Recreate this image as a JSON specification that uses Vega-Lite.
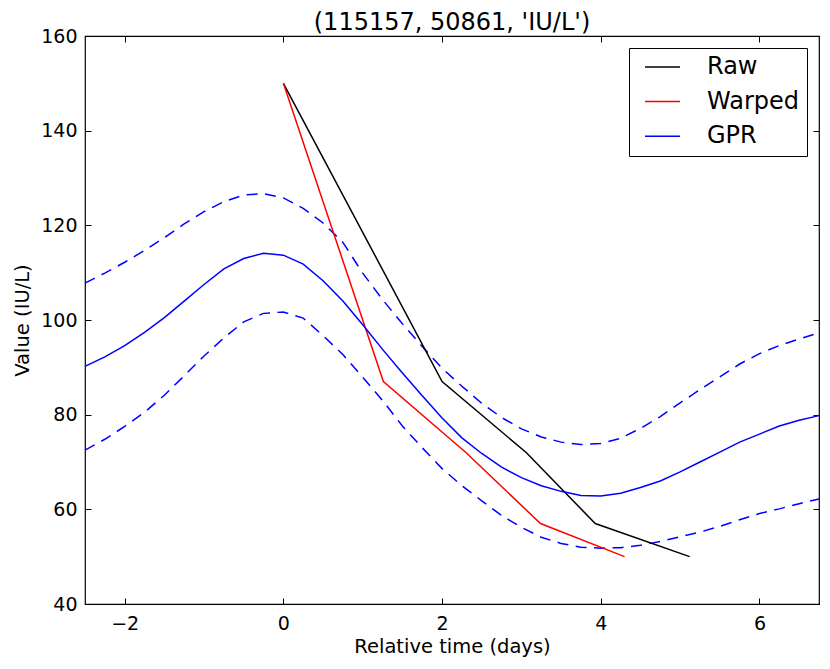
{
  "$schema": "https://vega.github.io/schema/vega-lite/v6.json",
  "width": 734,
  "height": 568,
  "autosize": "none",
  "padding": {"left": 85, "top": 36, "right": 11, "bottom": 65},
  "title": {
    "text": "(115157, 50861, 'IU/L')",
    "fontSize": 24,
    "fontWeight": "normal",
    "color": "black",
    "offset": 7,
    "dy": 15
  },
  "config": {
    "font": "DejaVu Sans",
    "view": {"stroke": "black", "strokeWidth": 1.2},
    "axis": {
      "domain": false,
      "grid": false,
      "tickSize": -6,
      "tickColor": "black",
      "tickWidth": 1,
      "labelFont": "DejaVu Sans",
      "labelFontSize": 19,
      "labelColor": "black",
      "titleFont": "DejaVu Sans",
      "titleFontSize": 19.5,
      "titleFontWeight": "normal",
      "titleColor": "black"
    },
    "legend": {
      "labelFont": "DejaVu Sans",
      "labelFontSize": 24,
      "labelColor": "black"
    }
  },
  "datasets": {
    "curves": [
      {"t": 0, "value": 150, "series": "Raw"},
      {"t": 2.0, "value": 87, "series": "Raw"},
      {"t": 3.06, "value": 72, "series": "Raw"},
      {"t": 3.93, "value": 57, "series": "Raw"},
      {"t": 5.12, "value": 50, "series": "Raw"},
      {"t": 0, "value": 150, "series": "Warped"},
      {"t": 1.26, "value": 87, "series": "Warped"},
      {"t": 2.3, "value": 72, "series": "Warped"},
      {"t": 3.24, "value": 57, "series": "Warped"},
      {"t": 4.3, "value": 50, "series": "Warped"},
      {"t": -2.5, "value": 90.2, "series": "GPR"},
      {"t": -2.25, "value": 92.2, "series": "GPR"},
      {"t": -2.0, "value": 94.6, "series": "GPR"},
      {"t": -1.75, "value": 97.4, "series": "GPR"},
      {"t": -1.5, "value": 100.5, "series": "GPR"},
      {"t": -1.25, "value": 104.0, "series": "GPR"},
      {"t": -1.0, "value": 107.5, "series": "GPR"},
      {"t": -0.75, "value": 110.8, "series": "GPR"},
      {"t": -0.5, "value": 113.0, "series": "GPR"},
      {"t": -0.25, "value": 114.1, "series": "GPR"},
      {"t": 0.0, "value": 113.7, "series": "GPR"},
      {"t": 0.25, "value": 111.8, "series": "GPR"},
      {"t": 0.5, "value": 108.3, "series": "GPR"},
      {"t": 0.75, "value": 104.0, "series": "GPR"},
      {"t": 1.0, "value": 99.0, "series": "GPR"},
      {"t": 1.25, "value": 93.8, "series": "GPR"},
      {"t": 1.5, "value": 88.8, "series": "GPR"},
      {"t": 1.75, "value": 84.0, "series": "GPR"},
      {"t": 2.0, "value": 79.3, "series": "GPR"},
      {"t": 2.25, "value": 75.1, "series": "GPR"},
      {"t": 2.5, "value": 71.8, "series": "GPR"},
      {"t": 2.75, "value": 68.9, "series": "GPR"},
      {"t": 3.0, "value": 66.7, "series": "GPR"},
      {"t": 3.25, "value": 65.0, "series": "GPR"},
      {"t": 3.5, "value": 63.8, "series": "GPR"},
      {"t": 3.75, "value": 62.9, "series": "GPR"},
      {"t": 4.0, "value": 62.8, "series": "GPR"},
      {"t": 4.25, "value": 63.4, "series": "GPR"},
      {"t": 4.5, "value": 64.6, "series": "GPR"},
      {"t": 4.75, "value": 66.0, "series": "GPR"},
      {"t": 5.0, "value": 67.9, "series": "GPR"},
      {"t": 5.25, "value": 70.0, "series": "GPR"},
      {"t": 5.5, "value": 72.1, "series": "GPR"},
      {"t": 5.75, "value": 74.2, "series": "GPR"},
      {"t": 6.0, "value": 75.9, "series": "GPR"},
      {"t": 6.25, "value": 77.6, "series": "GPR"},
      {"t": 6.5, "value": 78.8, "series": "GPR"},
      {"t": 6.75, "value": 79.8, "series": "GPR"},
      {"t": -2.5, "value": 107.8, "series": "GPR upper"},
      {"t": -2.25, "value": 109.9, "series": "GPR upper"},
      {"t": -2.0, "value": 112.2, "series": "GPR upper"},
      {"t": -1.75, "value": 114.7, "series": "GPR upper"},
      {"t": -1.5, "value": 117.4, "series": "GPR upper"},
      {"t": -1.25, "value": 120.3, "series": "GPR upper"},
      {"t": -1.0, "value": 122.9, "series": "GPR upper"},
      {"t": -0.75, "value": 125.0, "series": "GPR upper"},
      {"t": -0.5, "value": 126.4, "series": "GPR upper"},
      {"t": -0.25, "value": 126.7, "series": "GPR upper"},
      {"t": 0.0, "value": 125.8, "series": "GPR upper"},
      {"t": 0.25, "value": 123.6, "series": "GPR upper"},
      {"t": 0.5, "value": 120.5, "series": "GPR upper"},
      {"t": 0.75, "value": 116.4, "series": "GPR upper"},
      {"t": 1.0, "value": 109.9, "series": "GPR upper"},
      {"t": 1.25, "value": 104.3, "series": "GPR upper"},
      {"t": 1.5, "value": 99.2, "series": "GPR upper"},
      {"t": 1.75, "value": 94.4, "series": "GPR upper"},
      {"t": 2.0, "value": 89.8, "series": "GPR upper"},
      {"t": 2.25, "value": 86.0, "series": "GPR upper"},
      {"t": 2.5, "value": 82.4, "series": "GPR upper"},
      {"t": 2.75, "value": 79.4, "series": "GPR upper"},
      {"t": 3.0, "value": 77.0, "series": "GPR upper"},
      {"t": 3.25, "value": 75.3, "series": "GPR upper"},
      {"t": 3.5, "value": 74.2, "series": "GPR upper"},
      {"t": 3.75, "value": 73.7, "series": "GPR upper"},
      {"t": 4.0, "value": 73.9, "series": "GPR upper"},
      {"t": 4.25, "value": 75.0, "series": "GPR upper"},
      {"t": 4.5, "value": 77.1, "series": "GPR upper"},
      {"t": 4.75, "value": 79.6, "series": "GPR upper"},
      {"t": 5.0, "value": 82.5, "series": "GPR upper"},
      {"t": 5.25, "value": 85.3, "series": "GPR upper"},
      {"t": 5.5, "value": 88.0, "series": "GPR upper"},
      {"t": 5.75, "value": 90.7, "series": "GPR upper"},
      {"t": 6.0, "value": 92.9, "series": "GPR upper"},
      {"t": 6.25, "value": 94.6, "series": "GPR upper"},
      {"t": 6.5, "value": 96.0, "series": "GPR upper"},
      {"t": 6.75, "value": 97.3, "series": "GPR upper"},
      {"t": -2.5, "value": 72.5, "series": "GPR lower"},
      {"t": -2.25, "value": 74.8, "series": "GPR lower"},
      {"t": -2.0, "value": 77.5, "series": "GPR lower"},
      {"t": -1.75, "value": 80.5, "series": "GPR lower"},
      {"t": -1.5, "value": 84.1, "series": "GPR lower"},
      {"t": -1.25, "value": 88.2, "series": "GPR lower"},
      {"t": -1.0, "value": 92.4, "series": "GPR lower"},
      {"t": -0.75, "value": 96.2, "series": "GPR lower"},
      {"t": -0.5, "value": 99.6, "series": "GPR lower"},
      {"t": -0.25, "value": 101.4, "series": "GPR lower"},
      {"t": 0.0, "value": 101.7, "series": "GPR lower"},
      {"t": 0.25, "value": 100.4, "series": "GPR lower"},
      {"t": 0.5, "value": 96.7, "series": "GPR lower"},
      {"t": 0.75, "value": 92.7, "series": "GPR lower"},
      {"t": 1.0, "value": 87.9, "series": "GPR lower"},
      {"t": 1.25, "value": 83.0, "series": "GPR lower"},
      {"t": 1.5, "value": 77.6, "series": "GPR lower"},
      {"t": 1.75, "value": 73.0, "series": "GPR lower"},
      {"t": 2.0, "value": 68.6, "series": "GPR lower"},
      {"t": 2.25, "value": 65.0, "series": "GPR lower"},
      {"t": 2.5, "value": 61.8, "series": "GPR lower"},
      {"t": 2.75, "value": 58.7, "series": "GPR lower"},
      {"t": 3.0, "value": 56.2, "series": "GPR lower"},
      {"t": 3.25, "value": 54.1, "series": "GPR lower"},
      {"t": 3.5, "value": 52.8, "series": "GPR lower"},
      {"t": 3.75, "value": 52.0, "series": "GPR lower"},
      {"t": 4.0, "value": 51.8, "series": "GPR lower"},
      {"t": 4.25, "value": 51.9, "series": "GPR lower"},
      {"t": 4.5, "value": 52.4, "series": "GPR lower"},
      {"t": 4.75, "value": 53.2, "series": "GPR lower"},
      {"t": 5.0, "value": 54.2, "series": "GPR lower"},
      {"t": 5.25, "value": 55.2, "series": "GPR lower"},
      {"t": 5.5, "value": 56.4, "series": "GPR lower"},
      {"t": 5.75, "value": 57.8, "series": "GPR lower"},
      {"t": 6.0, "value": 59.1, "series": "GPR lower"},
      {"t": 6.25, "value": 60.1, "series": "GPR lower"},
      {"t": 6.5, "value": 61.2, "series": "GPR lower"},
      {"t": 6.75, "value": 62.2, "series": "GPR lower"}
    ]
  },
  "data": {"name": "curves"},
  "layer": [
    {
      "transform": [{"filter": {"field": "series", "oneOf": ["GPR upper", "GPR lower"]}}],
      "mark": {"type": "line", "color": "#0000ff", "strokeWidth": 1.5, "strokeDash": [11, 7.5]},
      "encoding": {
        "x": {
          "field": "t",
          "type": "quantitative",
          "scale": {"domain": [-2.5, 6.75], "nice": false, "zero": false},
          "axis": {"orient": "top", "labels": false, "title": null, "values": [-2, 0, 2, 4, 6]}
        },
        "y": {
          "field": "value",
          "type": "quantitative",
          "scale": {"domain": [40, 160], "nice": false, "zero": false},
          "axis": {"orient": "right", "labels": false, "title": null, "values": [40, 60, 80, 100, 120, 140, 160]}
        },
        "detail": {"field": "series"}
      }
    },
    {
      "transform": [{"filter": {"field": "series", "oneOf": ["Raw", "Warped", "GPR"]}}],
      "mark": {"type": "line", "strokeWidth": 1.5},
      "encoding": {
        "x": {
          "field": "t",
          "type": "quantitative",
          "title": "Relative time (days)",
          "axis": {"orient": "bottom", "values": [-2, 0, 2, 4, 6], "labelPadding": 16, "titlePadding": 4}
        },
        "y": {
          "field": "value",
          "type": "quantitative",
          "title": "Value (IU/L)",
          "axis": {"orient": "left", "values": [40, 60, 80, 100, 120, 140, 160], "labelPadding": 14, "titlePadding": 8}
        },
        "color": {
          "field": "series",
          "type": "nominal",
          "scale": {"domain": ["Raw", "Warped", "GPR"], "range": ["#000000", "#ff0000", "#0000ff"]},
          "legend": {
            "title": null,
            "orient": "top-right",
            "offset": 12,
            "symbolType": "stroke",
            "symbolSize": 1225,
            "symbolStrokeWidth": 1.5,
            "symbolOffset": 8,
            "clipHeight": 24,
            "labelOffset": 26,
            "padding": 7,
            "rowPadding": 10.6,
            "strokeColor": "black",
            "fillColor": "white",
            "cornerRadius": 0
          }
        }
      }
    }
  ],
  "resolve": {"axis": {"x": "independent", "y": "independent"}}
}
